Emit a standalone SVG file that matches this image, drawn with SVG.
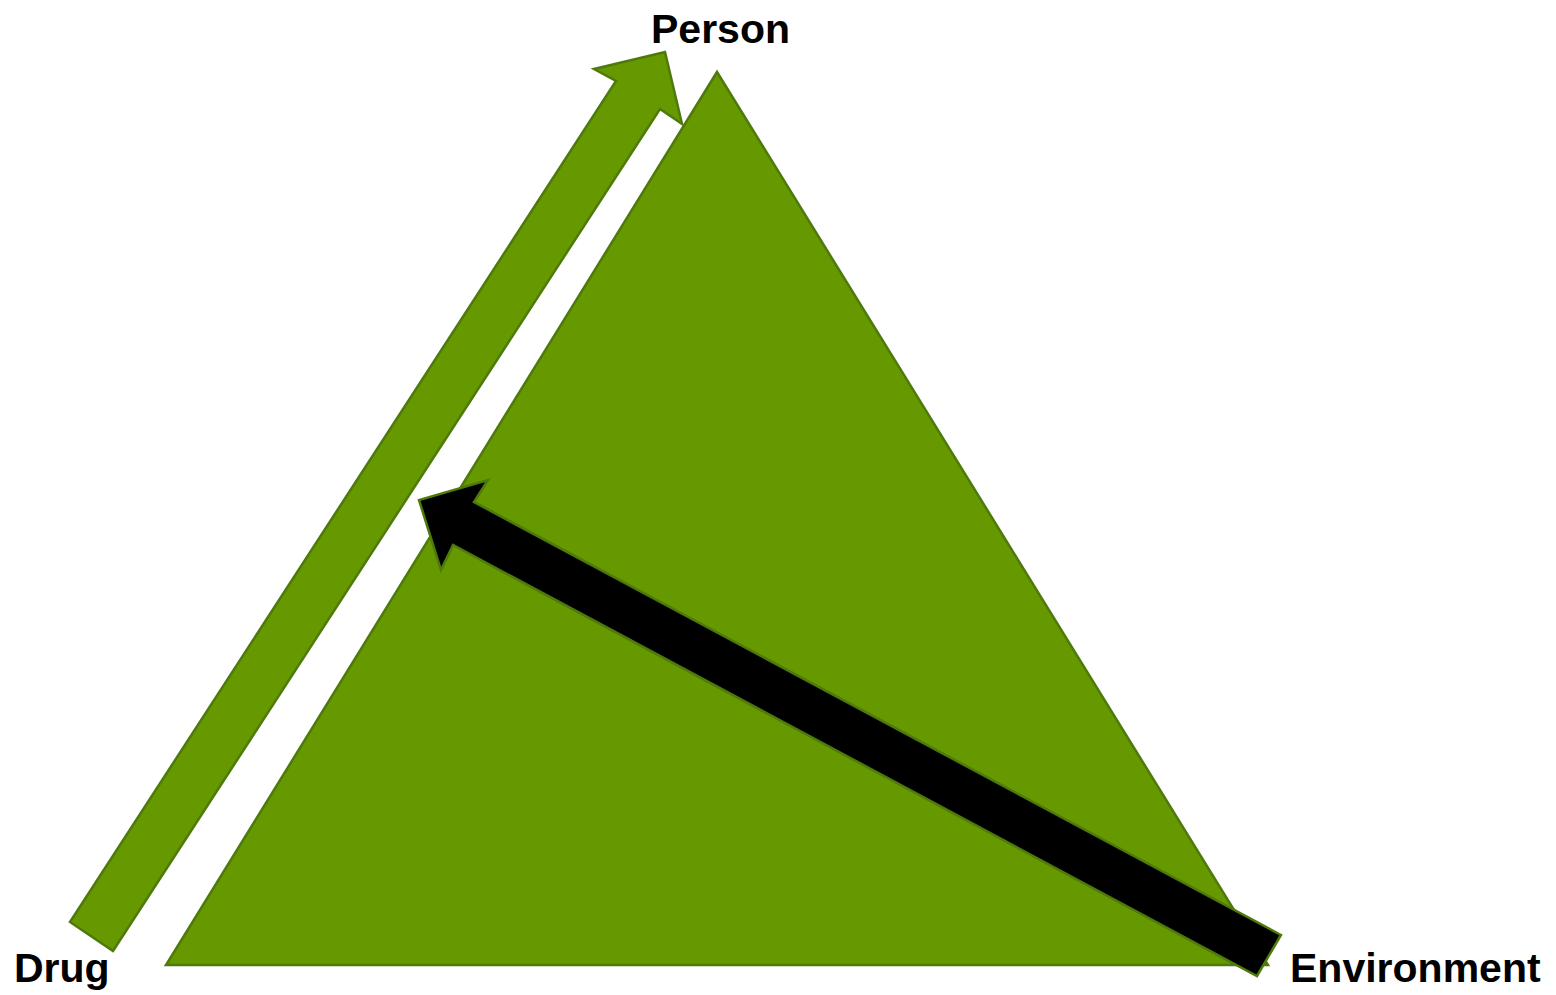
<svg xmlns="http://www.w3.org/2000/svg" width="1556" height="995" viewBox="0 0 1556 995">
<style>
.lbl{font-family:"Liberation Sans",Arial,sans-serif;font-weight:bold;font-size:41px;fill:#000}
.g{fill:#669900;stroke:#4e7a0c;stroke-width:2.5;stroke-linejoin:miter}
.k{fill:#000;stroke:#4e7a0c;stroke-width:2.5}
</style>
<rect width="1556" height="995" fill="#fff"/>
<g id="triangle"><polygon class="g" points="717,72 1268,965 166,965"/></g>
<g id="connectors">
<polygon id="arrow-drug-person" class="g" points="70,922 616,81 594,69 665,52 682,124 660,109 113,951"/>
<polygon id="arrow-env-drugperson" class="k" points="1281,935 474,502 488,480 419,500 441,570 453,545 1257,976"/>
</g>
<g id="person"><text class="lbl" x="651" y="43">Person</text></g>
<g id="drug"><text class="lbl" x="14" y="982">Drug</text></g>
<g id="environment"><text class="lbl" x="1290" y="982">Environment</text></g>
</svg>
